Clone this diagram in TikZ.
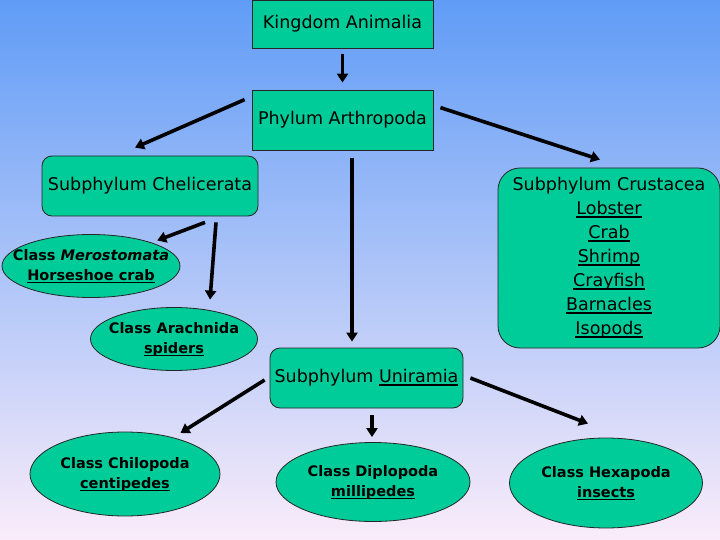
\documentclass[tikz,border=0pt]{standalone}
\usepackage{fontspec}
\setmainfont{DejaVu Sans}
\usetikzlibrary{shapes.geometric,arrows.meta}
\definecolor{teal1}{RGB}{0,204,153}
\definecolor{bgtop}{RGB}{96,156,246}
\definecolor{bgbot}{RGB}{250,236,250}
\newcommand\myul[1]{\setbox0\hbox{#1}\rlap{\vrule height -1.6pt depth 3.0pt width\wd0}\box0}
\begin{document}
\begin{tikzpicture}[x=1pt,y=-1pt,
 box/.style={draw=black!85,line width=0.8pt,fill=teal1,inner sep=0pt,align=center,font=\fontsize{17.5}{24}\selectfont},
 rbox/.style={box,rounded corners=10pt},
 ell/.style={ellipse,draw=black!85,line width=0.8pt,fill=teal1,inner xsep=-40pt,inner ysep=-12pt,align=center,font=\fontsize{14.5}{20}\selectfont\bfseries},
 arr/.style={line width=3.6pt,-{Triangle[length=9pt,width=11pt]}}]
\useasboundingbox (0,0) rectangle (720,540);
\shade[top color=bgtop,bottom color=bgbot] (0,0) rectangle (720,540);

\node[box,minimum width=181pt,minimum height=48pt] (K) at (342.5,24) {Kingdom Animalia};
\node[box,minimum width=181pt,minimum height=60pt] (P) at (342.5,120) {Phylum Arthropoda};
\node[rbox,minimum width=216pt,minimum height=60pt] (C) at (150,186) {Subphylum Chelicerata};
\node[box,rounded corners=22pt,minimum width=222pt,minimum height=180pt] (R) at (609,258)
  {Subphylum Crustacea\\ \myul{Lobster}\\ \myul{Crab}\\ \myul{Shrimp}\\ \myul{Crayfish}\\ \myul{Barnacles}\\ \myul{Isopods}};
\node[rbox,minimum width=193pt,minimum height=60pt] (U) at (366.5,378) {Subphylum \myul{Uniramia}};

\node[ell,minimum width=178pt,minimum height=63pt] (M) at (91,266) {Class \textit{Merostomata}\\ \myul{Horseshoe crab}};
\node[ell,minimum width=167pt,minimum height=63pt] (A) at (174,339) {Class Arachnida\\ \myul{spiders}};
\node[ell,minimum width=190pt,minimum height=84pt] (Ch) at (125,474) {Class Chilopoda\\ \myul{centipedes}};
\node[ell,minimum width=194pt,minimum height=79pt] (D) at (373,482) {Class Diplopoda\\ \myul{millipedes}};
\node[ell,minimum width=193pt,minimum height=90pt] (H) at (606,483) {Class Hexapoda\\ \myul{insects}};

\draw[arr] ([shift={(0,6)}]K.south) -- ([shift={(0,-7)}]P.north);
\draw[arr] ([shift={(-7,10)}]P.north west) -- ([shift={(-15,-8)}]C.north);
\draw[arr] ([shift={(7,18)}]P.north east) -- ([shift={(-9,-8)}]R.north);
\draw[arr] ([shift={(9.5,8)}]P.south) -- ([shift={(-14.5,-6)}]U.north);
\draw[arr] ([shift={(55,6)}]C.south) -- ([shift={(3,-3)}]M.north east);
\draw[arr] ([shift={(66,6)}]C.south) -- ([shift={(36,-7.5)}]A.north);
\draw[arr] ([shift={(-5,2)}]U.west) -- ([shift={(-12,-11)}]Ch.north east);
\draw[arr] ([shift={(5.5,7)}]U.south) -- ([shift={(-1,-5)}]D.north);
\draw[arr] ([shift={(7,0)}]U.east) -- ([shift={(-18,-14)}]H.north);
\end{tikzpicture}
\end{document}
